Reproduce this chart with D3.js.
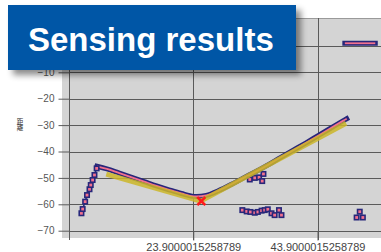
<!DOCTYPE html>
<html>
<head>
<meta charset="utf-8">
<script src="https://cdn.jsdelivr.net/npm/d3@7"></script>
<style>
  body { margin: 0; background: #fff; }
  svg { display: block; font-family: "Liberation Sans", Arial, sans-serif; }
</style>
</head>
<body>
<svg id="chart" width="381" height="252"></svg>
<script>
// values
var title = "Sensing results";
var yTitle = "距離";
var yTicks = [0, -10, -20, -30, -40, -50, -60, -70];
var yLabelTicks = [-10, -20, -30, -40, -50, -60, -70];
var xTicks = [23.9000015258789, 43.9000015258789];
var xTickLabels = ["23.9000015258789", "43.9000015258789"];

// rising markers on the left
var riseX = [5.9, 6.1, 6.5, 6.8, 7.2, 7.4, 7.7, 8.0, 8.35];
var riseY = [-63.4, -61.8, -59.0, -56.5, -54.3, -52.7, -50.8, -48.9, -46.4];

// dense measured curve
var curveX = [8.4, 10, 12, 14, 16, 18, 20, 22, 24, 26, 28, 30, 32, 34, 36, 38, 40, 42, 44, 46, 48, 48.6];
var curveY = [-45.6, -46.6, -48.2, -49.8, -51.4, -53.0, -54.5, -55.9, -57.0, -56.6, -54.8, -52.5, -50.0, -47.6, -45.0, -42.2, -39.5, -36.8, -34.0, -31.2, -28.4, -27.6];

// dense run of readings near 0 at the top right
var topX = [48.3, 49.3, 50.3, 51.3, 52.3, 53.2];
var topY = [1.0, 1.0, 1.0, 1.0, 1.0, 1.0];

// scattered markers
var scatX = [31.8, 32.5, 33.1, 33.8, 34.3, 34.9, 35.4, 35.9, 36.5, 37.0, 37.7, 38.1,
             33.0, 33.8, 34.5, 35.0, 35.2,
             50.7, 50.2, 51.2];
var scatY = [-62.2, -62.7, -62.9, -63.2, -62.9, -62.4, -62.2, -61.9, -63.4, -64.1, -62.2, -64.1,
             -50.6, -50.0, -49.8, -51.2, -48.5,
             -62.8, -65.0, -65.0];

// fitted line (yellow) and estimated minimum
var fitX = [9.9, 25.1, 48.5];
var fitY = [-48.6, -58.8, -29.3];
var minX = [25.2];
var minY = [-58.8];

var svg = d3.select("#chart");
var navy = "#27277a", pink = "#f2708e", grid = "#5a5a5a";

var x = d3.scaleLinear().domain([3.9, 43.9]).range([69, 317.5]);
var y = d3.scaleLinear().domain([-70, -10]).range([230.7, 72.3]);

var defs = svg.append("defs");
defs.append("clipPath").attr("id", "plot")
  .append("rect").attr("x", 62).attr("y", 18).attr("width", 319).attr("height", 220);
var f = defs.append("filter").attr("id", "shadow")
  .attr("x", "-10%").attr("y", "-20%").attr("width", "130%").attr("height", "160%");
f.append("feDropShadow").attr("dx", 5).attr("dy", 5).attr("stdDeviation", 3)
  .attr("flood-color", "#000").attr("flood-opacity", 0.45);

// plot background
svg.append("rect").attr("x", 62).attr("y", 18).attr("width", 319).attr("height", 220)
  .attr("fill", "#d4d4d4");
svg.append("line").attr("x1", 62).attr("x2", 381).attr("y1", 18.5).attr("y2", 18.5)
  .attr("stroke", "#9a9a9a");

// horizontal gridlines
svg.append("g").selectAll("line").data(yTicks).enter().append("line")
  .attr("x1", 69).attr("x2", 381)
  .attr("y1", function(d) { return Math.round(y(d)) + 0.5; })
  .attr("y2", function(d) { return Math.round(y(d)) + 0.5; })
  .attr("stroke", grid);

// vertical gridlines
svg.append("g").selectAll("line").data(xTicks).enter().append("line")
  .attr("x1", function(d) { return Math.round(x(d)) + 0.5; })
  .attr("x2", function(d) { return Math.round(x(d)) + 0.5; })
  .attr("y1", 18).attr("y2", 240)
  .attr("stroke", grid);

// y axis
var yAxis = d3.axisLeft(y).tickValues(yLabelTicks).tickSize(11).tickPadding(4)
  .tickFormat(d3.format("d"));
var gy = svg.append("g").attr("transform", "translate(69.5,0)").call(yAxis);
gy.select(".domain").remove();
gy.selectAll(".tick line").attr("stroke", grid);
gy.selectAll(".tick text").attr("fill", "#555").style("font-size", "10px");
svg.append("line").attr("x1", 69.5).attr("x2", 69.5).attr("y1", 18).attr("y2", 240)
  .attr("stroke", grid);

// x axis
var xAxis = d3.axisBottom(x).tickValues(xTicks).tickSize(9).tickPadding(3)
  .tickFormat(function(d, i) { return xTickLabels[i]; });
var gx = svg.append("g").attr("transform", "translate(0," + (Math.round(y(-70)) + 0.5) + ")").call(xAxis);
gx.select(".domain").remove();
gx.selectAll(".tick line").attr("stroke", grid);
gx.selectAll(".tick text").attr("fill", "#444").style("font-size", "11px");

// y axis title, written vertically
svg.append("text").attr("x", 20).attr("y", 118)
  .style("font-family", "'Noto Sans CJK JP', sans-serif").style("font-size", "6.5px")
  .style("writing-mode", "vertical-rl").style("text-orientation", "upright")
  .attr("fill", "#333").text(yTitle);

var plot = svg.append("g").attr("clip-path", "url(#plot)");

// measured series
var riseData = riseX.map(function(v, i) { return [v, riseY[i]]; });
var curveData = curveX.map(function(v, i) { return [v, curveY[i]]; });
var topData = topX.map(function(v, i) { return [v, topY[i]]; });
var straight = d3.line().x(function(d) { return x(d[0]); }).y(function(d) { return y(d[1]); });
var smooth = d3.line().x(function(d) { return x(d[0]); }).y(function(d) { return y(d[1]); })
  .curve(d3.curveCatmullRom);

plot.append("path").datum(riseData.concat(curveData.slice(0, 1)))
  .attr("d", straight)
  .attr("fill", "none").attr("stroke", navy).attr("stroke-width", 1.5);

function thickRun(data, gen) {
  plot.append("path").datum(data).attr("d", gen)
    .attr("fill", "none").attr("stroke", navy).attr("stroke-width", 5)
    .attr("stroke-linejoin", "round").attr("stroke-linecap", "square");
  plot.append("path").datum(data).attr("d", gen)
    .attr("fill", "none").attr("stroke", pink).attr("stroke-width", 1.8);
}
thickRun(curveData, smooth);
thickRun(topData, straight);

function markers(xs, ys) {
  plot.append("g").selectAll("rect").data(xs).enter().append("rect")
    .attr("x", function(d) { return x(d) - 2.2; })
    .attr("y", function(d, i) { return y(ys[i]) - 2.2; })
    .attr("width", 4.4).attr("height", 4.4)
    .attr("fill", pink).attr("stroke", navy).attr("stroke-width", 1.6);
}
markers(riseX, riseY);
markers(scatX, scatY);

// fitted line
var fitData = fitX.map(function(v, i) { return [v, fitY[i]]; });
plot.append("path").datum(fitData).attr("d", straight)
  .attr("fill", "none").attr("stroke", "#cbb628").attr("stroke-opacity", 0.85)
  .attr("stroke-width", 5).attr("stroke-linejoin", "round");

// minimum marker
plot.append("g").selectAll("path").data(minX).enter().append("path")
  .attr("transform", function(d, i) { return "translate(" + x(d) + "," + y(minY[i]) + ")"; })
  .attr("d", "M-4,-4L4,4M-4,4L4,-4")
  .attr("stroke", "#ff1a1a").attr("stroke-width", 2.6);

// title box
svg.append("rect").attr("x", 8).attr("y", 5).attr("width", 288).attr("height", 65)
  .attr("fill", "#0656a6").attr("filter", "url(#shadow)");
svg.append("text").attr("x", 28).attr("y", 51)
  .style("font-family", "'Liberation Sans', Arial, sans-serif")
  .style("font-size", "33px").style("font-weight", "bold")
  .attr("fill", "#fff").text(title);
</script>
</body>
</html>
